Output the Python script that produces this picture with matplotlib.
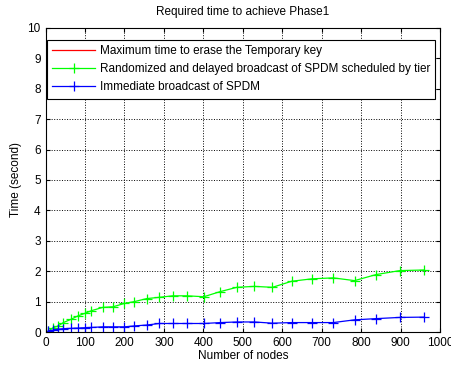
import matplotlib.pyplot as plt

plt.rcParams['font.family'] = ['Liberation Sans', 'DejaVu Sans']

# nodes / time values
green_x = [7, 19, 32, 45, 65, 82, 99, 116, 145, 171, 200, 225, 257, 288, 322, 359,
           401, 443, 485, 529, 575, 624, 676, 729, 783, 838, 898, 960]
green_y = [0.03, 0.14, 0.20, 0.31, 0.42, 0.53, 0.61, 0.70, 0.81, 0.83, 0.94, 1.00,
           1.10, 1.14, 1.19, 1.19, 1.16, 1.33, 1.47, 1.50, 1.47, 1.67, 1.75, 1.78,
           1.69, 1.89, 2.02, 2.04]
blue_x = green_x
blue_y = [0.03, 0.06, 0.09, 0.11, 0.12, 0.13, 0.14, 0.15, 0.17, 0.17, 0.17, 0.20,
          0.23, 0.28, 0.28, 0.28, 0.28, 0.31, 0.33, 0.33, 0.29, 0.31, 0.31, 0.31,
          0.40, 0.44, 0.48, 0.49]
red_x = []
red_y = []

labels = ['Maximum time to erase the Temporary key',
          'Randomized and delayed broadcast of SPDM scheduled by tier',
          'Immediate broadcast of SPDM']

fig = plt.figure(figsize=(4.51, 3.65), dpi=100)
ax = fig.add_axes([0.101, 0.0904, 0.875, 0.833])

ax.plot(red_x, red_y, color='red', linewidth=0.9, label=labels[0])
ax.plot(green_x, green_y, color='#00ff00', marker='+', markersize=7,
        markeredgewidth=0.9, linewidth=0.9, label=labels[1])
ax.plot(blue_x, blue_y, color='blue', marker='+', markersize=7,
        markeredgewidth=0.9, linewidth=0.9, label=labels[2])

ax.set_xlim(0, 1000)
ax.set_ylim(0, 10)
ax.set_xticks(range(0, 1001, 100))
ax.set_yticks(range(0, 11))
ax.tick_params(direction='in', top=True, right=True, labelsize=8.5, length=3)
ax.grid(True, color='black', linestyle=':', linewidth=0.7)
ax.set_axisbelow(True)

ax.set_xlabel('Number of nodes', fontsize=8.5, labelpad=1)
ax.set_ylabel('Time (second)', fontsize=8.5, labelpad=4)
ax.set_title('Required time to achieve Phase1', fontsize=8.5, pad=9)

leg = ax.legend(loc='upper left', bbox_to_anchor=(0.004, 0.96), fontsize=8.5,
                fancybox=False, framealpha=1, edgecolor='black',
                borderpad=0.45, labelspacing=0.5, handlelength=3.6,
                handletextpad=0.4, borderaxespad=0)
leg.get_frame().set_linewidth(0.8)

fig.savefig('out.png', dpi=100)
